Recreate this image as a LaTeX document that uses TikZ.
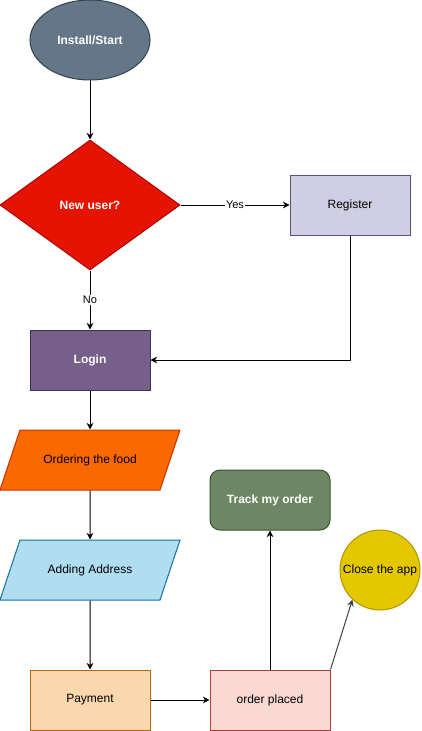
\documentclass[tikz,border=0pt]{standalone}
\usepackage{fontspec}
\setmainfont{Liberation Sans}
\usepackage{xcolor}
\usetikzlibrary{shapes.geometric, arrows.meta}

\definecolor{startfill}{HTML}{647687}
\definecolor{startline}{HTML}{314354}
\definecolor{askfill}{HTML}{E51400}
\definecolor{askline}{HTML}{B20000}
\definecolor{regfill}{HTML}{D0CEE2}
\definecolor{regline}{HTML}{56517E}
\definecolor{loginfill}{HTML}{76608A}
\definecolor{loginline}{HTML}{432D57}
\definecolor{foodfill}{HTML}{FA6800}
\definecolor{foodline}{HTML}{C73500}
\definecolor{addrfill}{HTML}{B1DDF0}
\definecolor{addrline}{HTML}{10739E}
\definecolor{payfill}{HTML}{FAD7AC}
\definecolor{payline}{HTML}{B46504}
\definecolor{placedfill}{HTML}{FAD9D5}
\definecolor{placedline}{HTML}{AE4132}
\definecolor{trackfill}{HTML}{6D8764}
\definecolor{trackline}{HTML}{3A5431}
\definecolor{closefill}{HTML}{E3C800}
\definecolor{closeline}{HTML}{B09500}

\begin{document}
\begin{tikzpicture}[x=0.75pt, y=-0.75pt,
    font=\fontsize{9}{11}\selectfont,
    line width=0.75pt, >={Stealth[length=5pt, width=5pt]},
    box/.style={rectangle, draw, line width=0.75pt, minimum width=90pt, minimum height=45pt, inner sep=0pt},
    slanted/.style={trapezium, draw, line width=0.75pt, trapezium left angle=71.57, trapezium right angle=108.43,
        trapezium stretches body, text height=6.5pt, text depth=2pt, inner xsep=0pt, inner ysep=18.25pt,
        minimum width=135pt},
    whitebold/.style={text=white, font=\fontsize{9}{11}\selectfont\bfseries},
    edgelabel/.style={fill=white, inner sep=1pt, font=\fontsize{8.25}{10}\selectfont}]
    \useasboundingbox (0,0) rectangle (421,731);

    % Start and decision
    \node[ellipse, draw=startline, fill=startfill, whitebold, minimum width=90pt, minimum height=60pt, inner sep=0pt] (start) at (90,40) {Install/Start};
    \node[diamond, draw=askline, fill=askfill, whitebold, minimum width=135pt, minimum height=97.5pt, inner sep=0pt] (newuser) at (90,205) {New user?};
    \node[box, draw=regline, fill=regfill] (register) at (350,205) {Register};
    \node[box, draw=loginline, fill=loginfill, whitebold] (login) at (90,360) {Login};

    % Ordering steps
    \node[slanted, draw=foodline, fill=foodfill] (food) at (90,460) {Ordering the food};
    \node[slanted, draw=addrline, fill=addrfill] (address) at (90,570) {Adding Address};
    \node[box, draw=payline, fill=payfill] (payment) at (90,700) {Payment};
    \node[box, draw=placedline, fill=placedfill] (placed) at (270,700) {order placed};
    \node[box, rounded corners=7.5pt, draw=trackline, fill=trackfill, whitebold] (track) at (270,500) {Track my order};
    \node[circle, draw=closeline, fill=closefill, minimum size=60pt, inner sep=0pt] (close) at (380,570) {Close the app};

    % Connectors
    \draw[->] (start) -- (newuser);
    \draw[->] (newuser) -- node[edgelabel] {Yes} (register);
    \draw[->] (newuser) -- node[edgelabel] {No} (login);
    \draw[->] (register.south) |- (login.east);
    \draw[->] (login) -- (food);
    \draw[->] (food) -- (address);
    \draw[->] (address) -- (payment);
    \draw[->] (payment) -- (placed);
    \draw[->] (placed) -- (track);
    \draw[->, black!75] (placed.north east) -- (close.227);
\end{tikzpicture}
\end{document}
